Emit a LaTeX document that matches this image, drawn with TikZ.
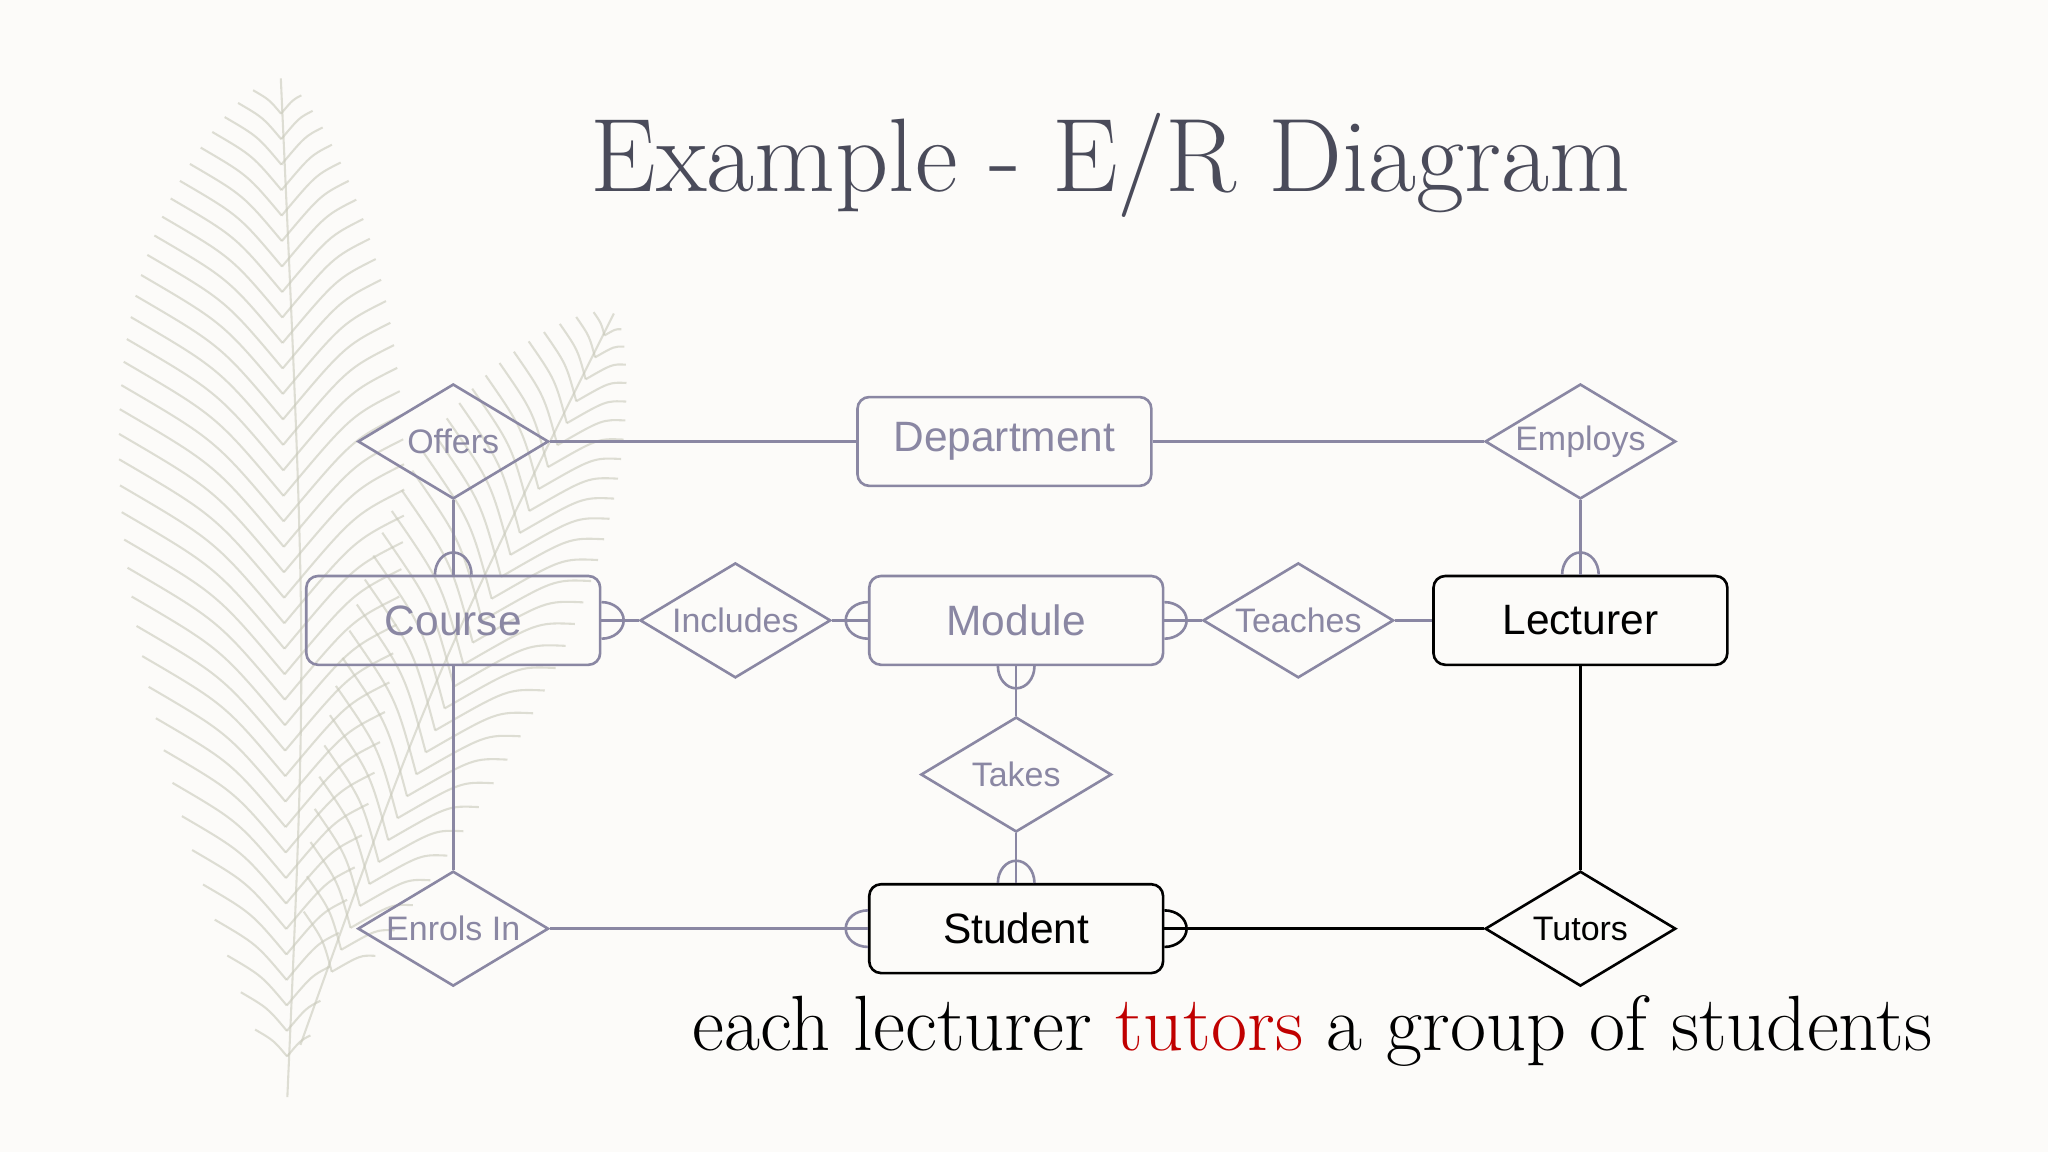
\documentclass[tikz,border=0pt]{standalone}
\usepackage{fontspec}
\setmainfont{Latin Modern Roman}
\newfontfamily\sansf{Liberation Sans}
\usetikzlibrary{shapes.geometric,calc}
\definecolor{bg}{HTML}{FCFBF9}
\definecolor{erg}{HTML}{8A87A3}
\definecolor{ttl}{HTML}{4A4B5A}
\definecolor{fea}{HTML}{C9CABB}
\definecolor{cred}{HTML}{C00000}
\begin{document}
\begin{tikzpicture}[x=1pt,y=-1pt,
  ent/.style={draw, rounded corners=9pt, minimum width=225pt, minimum height=68pt, line width=2pt, inner sep=0pt, font=\sansf\fontsize{32.5}{38}\selectfont},
  rel/.style={draw, diamond, aspect=1.66, minimum width=146pt, minimum height=88pt, inner sep=0pt, line width=2pt, font=\sansf\fontsize{26}{30}\selectfont},
  gr/.style={erg, text=erg},
  bk/.style={black, text=black},
  ln/.style={line width=2pt},
  many/.pic={\draw[line width=2pt] (0,-14) arc[start angle=-90, end angle=90, x radius=17, y radius=14];}
]
\path[fill=bg] (0,0) rectangle (1568,882);
% feathers
\begin{scope}[fea, line width=1.6pt, opacity=0.6]
  \coordinate (B1) at (220,840); \coordinate (T1) at (215,60);
  \draw (B1) .. controls (235,500) .. (T1);
  \foreach \t in {0.04,0.065,...,0.97}{
    \pgfmathsetmacro\L{165*sin(180*\t)^0.8}
    \draw ($(B1)!\t!(T1)$) .. controls +(-130:0.5*\L) .. +(-140:\L);
    \draw ($(B1)!\t!(T1)$) .. controls +(-50:0.5*\L) .. +(-42:0.75*\L);
  }
  \coordinate (B2) at (230,800); \coordinate (T2) at (470,240);
  \draw (B2) .. controls (330,520) .. (T2);
  \foreach \t in {0.1,0.13,...,0.97}{
    \pgfmathsetmacro\L{130*sin(180*\t)^0.8}
    \draw ($(B2)!\t!(T2)$) .. controls +(-105:0.5*\L) .. +(-115:\L);
    \draw ($(B2)!\t!(T2)$) .. controls +(-30:0.5*\L) .. +(-20:0.7*\L);
  }
\end{scope}
% title
\node[ttl, font=\fontsize{80}{90}\selectfont] (title) at (850,127) {Example - E/R Diagram};
% entities
\node[ent,gr] (dep) at (769,338) {\raisebox{-2pt}{Department}};
\node[ent,gr] (course) at (347,475) {\raisebox{-2pt}{Course}};
\node[ent,gr] (module) at (778,475) {\raisebox{-2pt}{Module}};
\node[ent,bk] (lect) at (1210,475) {\raisebox{-2pt}{Lecturer}};
\node[ent,bk] (stud) at (778,711) {\raisebox{-2pt}{Student}};
% relationships
\node[rel,gr] (offers) at (347,338) {\raisebox{-2pt}{Offers}};
\node[rel,gr] (employs) at (1210,338) {\raisebox{-2pt}{Employs}};
\node[rel,gr] (incl) at (563,475) {\raisebox{-2pt}{Includes}};
\node[rel,gr] (teach) at (994,475) {\raisebox{-2pt}{Teaches}};
\node[rel,gr] (takes) at (778,593) {\raisebox{-2pt}{Takes}};
\node[rel,gr] (enrol) at (347,711) {\raisebox{-2pt}{Enrols In}};
\node[rel,bk] (tutors) at (1210,711) {\raisebox{-2pt}{Tutors}};
% connectors
\begin{scope}[erg, ln]
\draw (offers) -- (dep);
\draw (dep) -- (employs);
\draw (offers) -- (course);
\draw (employs) -- (lect);
\draw (course) -- (incl);
\draw (incl) -- (module);
\draw (module) -- (teach);
\draw (teach) -- (lect);
\draw (module) -- (takes);
\draw (takes) -- (stud);
\draw (course) -- (enrol);
\draw (enrol) -- (stud);
\path (course.north) pic[rotate=90]{many};
\path (lect.north) pic[rotate=90]{many};
\path (course.east) pic{many};
\path (module.west) pic[rotate=180]{many};
\path (module.east) pic{many};
\path (module.south) pic[rotate=270]{many};
\path (stud.north) pic[rotate=90]{many};
\path (stud.west) pic[rotate=180]{many};
\end{scope}
\begin{scope}[black, ln]
\draw (stud) -- (tutors);
\draw (tutors) -- (lect);
\path (stud.east) pic{many};
\end{scope}
% caption
\node[black, font=\fontsize{60}{68}\selectfont, anchor=base] (cap) at (1005,804) {each lecturer \textcolor{cred}{tutors} a group of students};
\end{tikzpicture}
\end{document}
